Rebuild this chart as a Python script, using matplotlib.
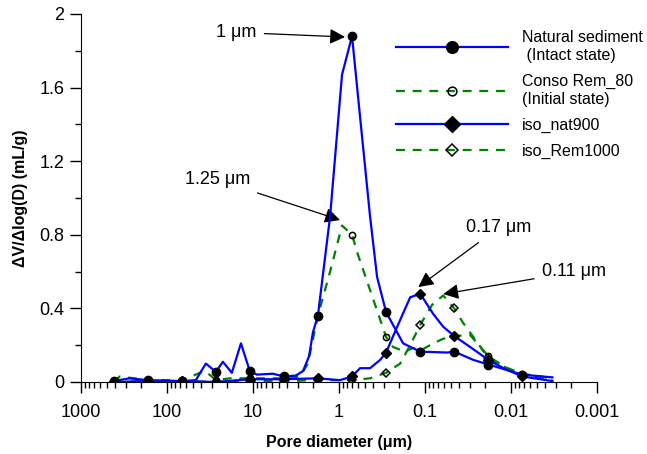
import numpy as np
import matplotlib
matplotlib.use("Agg")
import matplotlib.pyplot as plt
from matplotlib.ticker import LogLocator, FixedLocator, MultipleLocator, NullFormatter

plt.rcParams['font.family'] = ['Liberation Sans', 'DejaVu Sans']

# diameters (um) where the symbols sit
marker_d = [416, 167, 67.3, 27.0, 10.9, 4.37, 1.76, 0.706, 0.284, 0.114, 0.0458, 0.0184, 0.0074]

nat_d = [416, 271, 167, 67.3, 46.2, 35.3, 27.0, 22.4, 17.6, 13.8, 10.9, 9.0, 5.87, 4.37, 3.17,
         2.62, 2.23, 2.01, 1.76, 1.27, 0.923, 0.706, 0.601, 0.436, 0.361, 0.284, 0.180, 0.114,
         0.0553, 0.0458, 0.0275, 0.0184, 0.0074, 0.00331]
nat_v = [0.005, 0.02, 0.01, 0.005, 0.01, 0.10, 0.055, 0.11, 0.05, 0.21, 0.06, 0.04, 0.045, 0.03, 0.035,
         0.06, 0.14, 0.27, 0.36, 0.90, 1.67, 1.88, 1.55, 0.90, 0.57, 0.38, 0.21, 0.165,
         0.16, 0.165, 0.12, 0.095, 0.04, 0.025]

conso_d = [416, 354, 167, 67.3, 36.3, 30.1, 27.0, 18.6, 10.9, 4.37, 2.84, 2.30, 1.76, 1.27, 0.923,
           0.706, 0.601, 0.436, 0.333, 0.284, 0.235, 0.171, 0.138, 0.114, 0.0805, 0.0615, 0.0458,
           0.0299, 0.0184, 0.0117, 0.0074, 0.00331]
conso_v = [0.0, 0.03, 0.01, 0.01, 0.06, 0.03, 0.01, 0.02, 0.02, 0.02, 0.03, 0.10, 0.36, 0.60, 0.85,
           0.80, 0.69, 0.50, 0.34, 0.245, 0.19, 0.165, 0.185, 0.17, 0.21, 0.235, 0.25,
           0.255, 0.14, 0.08, 0.045, 0.02]

nat900_d = [416, 167, 67.3, 27.0, 10.9, 4.37, 1.76, 0.973, 0.706, 0.570, 0.436, 0.333, 0.284, 0.211,
            0.149, 0.114, 0.0805, 0.0615, 0.0458, 0.0299, 0.0184, 0.0117, 0.0074, 0.00331]
nat900_v = [0.0, 0.005, 0.005, 0.0, 0.015, 0.015, 0.02, 0.01, 0.03, 0.075, 0.075, 0.12, 0.16, 0.30,
            0.46, 0.48, 0.37, 0.30, 0.25, 0.19, 0.12, 0.07, 0.03, 0.005]

rem1000_d = [416, 167, 67.3, 27.0, 10.9, 4.37, 1.76, 0.706, 0.436, 0.284, 0.195, 0.149, 0.114,
             0.0827, 0.0615, 0.0458, 0.0360, 0.0261, 0.0184, 0.0117, 0.0074, 0.00331]
rem1000_v = [0.0, 0.005, 0.005, 0.0, 0.005, 0.005, 0.01, 0.01, 0.02, 0.05, 0.10, 0.20, 0.31,
             0.42, 0.47, 0.40, 0.32, 0.23, 0.13, 0.08, 0.035, 0.01]

labels = ["Natural sediment\n (Intact state)", "Conso Rem_80\n(Initial state)", "iso_nat900", "iso_Rem1000"]

# peak annotations: text, peak position, text position
ann_text = ["1 \u03bcm", "1.25 \u03bcm", "0.17 \u03bcm", "0.11 \u03bcm"]
ann_xy = [(0.851, 1.875), (0.973, 0.88), (0.120, 0.516), (0.0615, 0.478)]
ann_txt = [(15.8, 1.90), (25.6, 1.098), (0.0141, 0.837), (0.00184, 0.598)]


def mk(d):
    return [i for i, v in enumerate(d) if v in marker_d]


fig = plt.figure(figsize=(6.47, 4.54), dpi=100)
ax = fig.add_axes([0.125, 0.1586, 0.798, 0.8106])

blue = "#0000ff"
green = "#008000"

ax.plot(nat_d, nat_v, color=blue, lw=1.6, marker="o", ms=6, mfc="black", mec="black",
        markevery=mk(nat_d), label=labels[0], zorder=4)
ax.plot(conso_d, conso_v, color=green, lw=1.6, dashes=(4, 3.5), marker="o", ms=4.5, mfc="none",
        mec="black", mew=1.1, markevery=mk(conso_d), label=labels[1], zorder=3)
ax.plot(nat900_d, nat900_v, color=blue, lw=1.6, marker="D", ms=5.5, mfc="black", mec="black",
        markevery=mk(nat900_d), label=labels[2], zorder=4)
ax.plot(rem1000_d, rem1000_v, color=green, lw=1.6, dashes=(4, 3.5), marker="D", ms=4.5, mfc="none",
        mec="black", mew=1.1, markevery=mk(rem1000_d), label=labels[3], zorder=3)

for t, xy, xyt in zip(ann_text, ann_xy, ann_txt):
    ax.annotate(t, xy=xy, xytext=xyt, fontsize=13, ha="center", va="center",
                annotation_clip=False,
                arrowprops=dict(arrowstyle="-|>", color="black", lw=0.9, mutation_scale=23,
                                shrinkA=4, shrinkB=0))

ax.set_xscale("log")
ax.set_xlim(1000, 0.001)
ax.set_ylim(0, 2)
ax.xaxis.set_major_locator(FixedLocator([1000, 100, 10, 1, 0.1, 0.01, 0.001]))
ax.set_xticklabels(["1000", "100", "10", "1", "0.1", "0.01", "0.001"])
ax.xaxis.set_minor_locator(LogLocator(base=10, subs=np.arange(2, 10), numticks=20))
ax.xaxis.set_minor_formatter(NullFormatter())
ax.set_yticks([0, 0.4, 0.8, 1.2, 1.6, 2])
ax.set_yticklabels(["0", "0.4", "0.8", "1.2", "1.6", "2"])
ax.yaxis.set_minor_locator(MultipleLocator(0.2))
ax.tick_params(which="major", direction="out", length=8, width=1, labelsize=13, pad=4)
ax.tick_params(axis="x", which="major", pad=8)
ax.tick_params(which="minor", direction="out", length=4, width=1)

for s in ["top", "right"]:
    ax.spines[s].set_visible(False)

ax.set_xlabel("Pore diameter (\u03bcm)", fontsize=11.5, fontweight="bold", labelpad=10)
ax.set_ylabel("\u0394V/\u0394log(D) (mL/g)", fontsize=11.5, fontweight="bold", labelpad=8)

fig.legend(loc="upper left", bbox_to_anchor=(0.612, 0.933), frameon=False, fontsize=11.5,
           handlelength=7.0, handletextpad=0.9, labelspacing=0.7, markerscale=1.4,
           borderpad=0, borderaxespad=0)

fig.savefig("out.png", dpi=100)
